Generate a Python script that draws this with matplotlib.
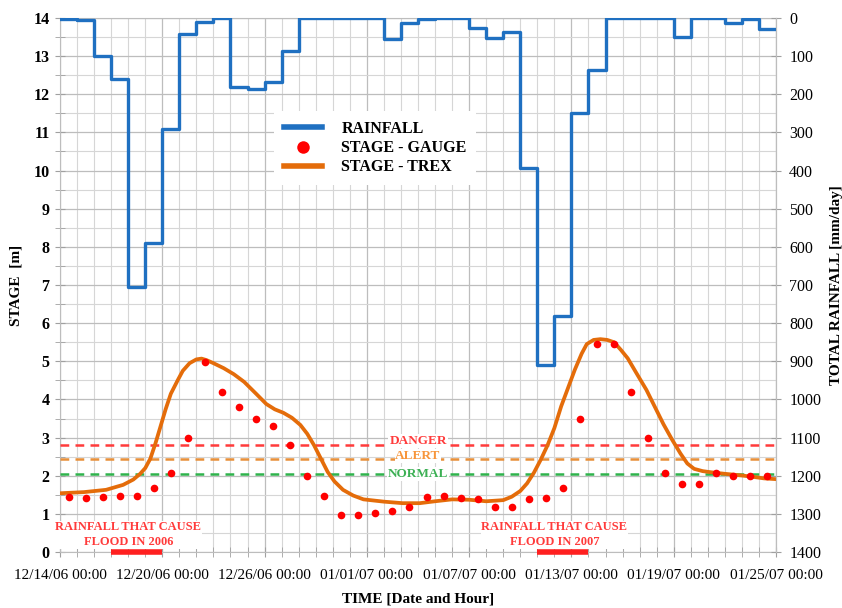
import numpy as np
import matplotlib
matplotlib.use("Agg")
import matplotlib.pyplot as plt
import matplotlib.dates as mdates
from matplotlib.lines import Line2D

plt.rcParams['font.family'] = ['Liberation Serif', 'DejaVu Serif']

START = np.datetime64('2006-12-14T00:00')
DAY = np.timedelta64(1, 'D')
HOUR = np.timedelta64(1, 'h')

# daily rainfall [mm/day], one value per day from 12/14/06
rainfall = [2, 5, 100, 160, 705, 590, 290, 43, 10, 0,
            182, 186, 169, 87, 0, 0, 0, 0, 0, 55,
            12, 2, 0, 1, 27, 53, 36, 394, 910, 780,
            250, 136, 0, 0, 0, 0, 49, 0, 0, 14,
            2, 30]

# gauge stage [m], read at noon of each day
stage_gauge = [1.45, 1.42, 1.43, 1.46, 1.48, 1.68, 2.07, 2.98, 4.98, 4.20,
               3.80, 3.50, 3.30, 2.80, 1.98, 1.48, 0.98, 0.98, 1.02, 1.08,
               1.18, 1.43, 1.48, 1.42, 1.38, 1.18, 1.18, 1.38, 1.42, 1.68,
               3.50, 5.45, 5.45, 4.20, 2.98, 2.07, 1.78, 1.78, 2.07, 1.98,
               1.98, 1.98]

# TREX simulated stage (time in days since start)
trex_days = [0, 1.4, 2.7, 3.7, 4.3, 4.7, 5.0, 5.3, 5.6, 5.9,
             6.2, 6.5, 6.9, 7.2, 7.6, 8.0, 8.3, 8.6, 9.0, 9.6,
             10.2, 10.8, 11.5, 12.1, 12.6, 13.1, 13.6, 14.1, 14.5, 14.9,
             15.3, 15.7, 16.1, 16.6, 17.2, 17.8, 19.0, 20.1, 21.1, 22.0,
             23.0, 24.0, 25.0, 26.0, 26.5, 27.0, 27.4, 27.8, 28.2, 28.6,
             29.0, 29.4, 29.8, 30.2, 30.6, 30.9, 31.3, 31.7, 32.1, 32.5,
             32.9, 33.3, 33.8, 34.4, 34.9, 35.4, 35.9, 36.4, 36.8, 37.2,
             37.7, 38.2, 39.0, 39.7, 40.5, 41.3, 42.0]
stage_trex = [1.54, 1.57, 1.63, 1.76, 1.90, 2.05, 2.20, 2.45, 2.85, 3.30,
              3.75, 4.15, 4.50, 4.75, 4.95, 5.05, 5.07, 5.03, 4.95, 4.82,
              4.66, 4.46, 4.15, 3.88, 3.74, 3.65, 3.52, 3.33, 3.10, 2.80,
              2.45, 2.10, 1.85, 1.63, 1.48, 1.38, 1.32, 1.28, 1.28, 1.33,
              1.38, 1.37, 1.33, 1.36, 1.45, 1.60, 1.80, 2.08, 2.42, 2.80,
              3.25, 3.82, 4.30, 4.78, 5.20, 5.45, 5.56, 5.58, 5.56, 5.50,
              5.30, 5.08, 4.70, 4.25, 3.80, 3.35, 2.95, 2.58, 2.32, 2.18,
              2.12, 2.09, 2.05, 2.02, 1.98, 1.93, 1.91]

# warning levels [m]
levels = {'DANGER': 2.80, 'ALERT': 2.45, 'NORMAL': 2.05}
level_colors = {'DANGER': '#ff3b3b', 'ALERT': '#e8903a', 'NORMAL': '#2fb34c'}
level_text_colors = {'DANGER': '#ff3b3b', 'ALERT': '#f7953a', 'NORMAL': '#3cb054'}
level_text_shift = {'DANGER': 0.11, 'ALERT': 0.06, 'NORMAL': 0.0}

# flood-causing rainfall periods (start day, end day)
flood_periods = [(3, 6), (28, 31)]
flood_labels = ['RAINFALL THAT CAUSE\nFLOOD IN 2006', 'RAINFALL THAT CAUSE\nFLOOD IN 2007']

n_days = len(rainfall)
rain_t = START + np.arange(n_days + 1) * DAY
rain_v = rainfall + [rainfall[-1]]
gauge_t = START + np.arange(len(stage_gauge)) * DAY + 12 * HOUR
trex_t = START + (np.array(trex_days) * 24 * 60).astype(int) * np.timedelta64(1, 'm')

BLUE = '#1f70c1'
ORANGE = '#e46c0a'
RED = '#ff0000'

fig = plt.figure(figsize=(8.42, 6.08), dpi=100)
ax = fig.add_axes([0.0713, 0.0921, 0.8503, 0.8783])
ax2 = ax.twinx()

# stage axis
ax.plot(trex_t, stage_trex, color=ORANGE, lw=2.7, zorder=4)
ax.plot(gauge_t, stage_gauge, 'o', color=RED, ms=5.5, mec='none', zorder=5)

for name, val in levels.items():
    ax.plot([START, START + 42 * DAY], [val, val], ls=(0, (3.5, 2.5)),
            color=level_colors[name], lw=1.8, zorder=3)
    ax.text(START + 21.45 * DAY, val + level_text_shift[name], name, ha='center', va='center',
            color=level_text_colors[name], fontsize=9.5, fontweight='bold', zorder=3.5,
            bbox=dict(facecolor='white', edgecolor='none', pad=0.6))

ax.set_ylim(0, 14)
ax.set_yticks(np.arange(0, 15, 1))
ax.set_yticks(np.arange(0, 14.5, 0.5), minor=True)
ax.set_xlim(START, START + 42 * DAY)
ax.set_xticks(START + np.arange(0, 43, 6) * DAY)
ax.xaxis.set_major_formatter(mdates.DateFormatter('%m/%d/%y %H:%M'))
ax.xaxis.set_minor_locator(mdates.DayLocator())

ax.grid(which='major', color='#bdbdbd', lw=0.9)
ax.grid(which='minor', color='#d6d6d6', lw=0.8)
ax.set_axisbelow(True)

ax.tick_params(axis='both', which='both', direction='inout', color='#a0a0a0', length=7)
ax.tick_params(axis='x', labelsize=11, pad=9)
ax.tick_params(axis='y', labelsize=11.5, pad=4)
for lab in ax.get_yticklabels():
    lab.set_fontweight('bold')

ax.set_ylabel('STAGE  [m]', fontsize=11, fontweight='bold', labelpad=8)
ax.set_xlabel('TIME [Date and Hour]', fontsize=11, fontweight='bold', labelpad=7)

# rainfall axis (inverted)
ax2.step(rain_t, rain_v, where='post', color=BLUE, lw=2.4, zorder=4)
ax2.set_ylim(1400, 0)
ax2.set_yticks(np.arange(0, 1401, 100))
ax2.tick_params(axis='y', direction='inout', color='#a0a0a0', length=7, labelsize=11.5, pad=6)
ax2.set_ylabel('TOTAL RAINFALL [mm/day]', fontsize=11, fontweight='bold', labelpad=6)

for sp in ax.spines.values():
    sp.set_color('#bdbdbd')
for side in ('top', 'bottom', 'left'):
    ax2.spines[side].set_visible(False)
ax2.spines['right'].set_color('#bdbdbd')

# flood rainfall markers, drawn over the x axis
for (d0, d1), lab in zip(flood_periods, flood_labels):
    ax2.plot([START + d0 * DAY, START + d1 * DAY], [1400, 1400], color='#ff2020',
             lw=4, solid_capstyle='butt', clip_on=False, zorder=6)
    ax.text(START + (d0 + d1) / 2 * DAY + 0.1 * DAY, 0.45, lab, ha='center', va='center',
            color='#ff3b3b', fontsize=9, fontweight='bold', linespacing=1.3, zorder=6,
            bbox=dict(facecolor='white', edgecolor='none', pad=0.5))

handles = [Line2D([], [], color=BLUE, lw=4),
           Line2D([], [], ls='none', marker='o', color=RED, ms=9, mec='none'),
           Line2D([], [], color=ORANGE, lw=4)]
labels = ['RAINFALL', 'STAGE - GAUGE', 'STAGE - TREX']
leg = ax2.legend(handles, labels, loc='upper left', bbox_to_anchor=(0.288, 0.84),
                 frameon=True, fancybox=False, framealpha=1, edgecolor='none',
                 prop={'weight': 'bold', 'size': 11.5}, handlelength=2.4,
                 handletextpad=1.2, labelspacing=0.2, borderpad=0.6)
leg.set_zorder(10)

fig.savefig('out.png', dpi=100)
